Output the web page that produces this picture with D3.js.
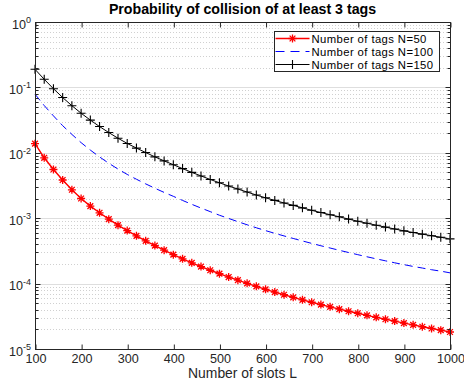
<!DOCTYPE html>
<html>
<head>
<meta charset="utf-8">
<script src="https://cdn.jsdelivr.net/npm/d3@7/dist/d3.min.js"></script>
<style>
  body { margin: 0; background: #fff; }
  svg { display: block; font-family: "Liberation Sans", Arial, Helvetica, sans-serif; }
</style>
</head>
<body>
<svg id="chart" width="464" height="386"></svg>
<script>
// number of slots L (x values, one marker each)
const slots = [100, 120, 140, 160, 180, 200, 220, 240, 260, 280, 300, 320, 340, 360, 380, 400,
  420, 440, 460, 480, 500, 520, 540, 560, 580, 600, 620, 640, 660, 680, 700, 720, 740, 760, 780,
  800, 820, 840, 860, 880, 900, 920, 940, 960, 980, 1000];

// probability
const pN50 = [1.38e-2, 8.39e-3, 5.55e-3, 3.84e-3, 2.72e-3, 2.00e-3, 1.53e-3, 1.21e-3, 9.66e-4,
  7.83e-4, 6.46e-4, 5.37e-4, 4.51e-4, 3.81e-4, 3.24e-4, 2.77e-4, 2.39e-4, 2.08e-4, 1.82e-4,
  1.60e-4, 1.42e-4, 1.26e-4, 1.13e-4, 1.01e-4, 9.08e-5, 8.18e-5, 7.41e-5, 6.75e-5, 6.17e-5,
  5.65e-5, 5.19e-5, 4.78e-5, 4.41e-5, 4.07e-5, 3.78e-5, 3.52e-5, 3.27e-5, 3.05e-5, 2.85e-5,
  2.67e-5, 2.49e-5, 2.34e-5, 2.19e-5, 2.06e-5, 1.94e-5, 1.82e-5];
const pN100 = [7.87e-2, 5.28e-2, 3.67e-2, 2.60e-2, 1.91e-2, 1.43e-2, 1.10e-2, 8.65e-3, 6.92e-3,
  5.64e-3, 4.67e-3, 3.94e-3, 3.35e-3, 2.87e-3, 2.48e-3, 2.16e-3, 1.87e-3, 1.63e-3, 1.43e-3,
  1.26e-3, 1.11e-3, 9.91e-4, 8.85e-4, 7.93e-4, 7.14e-4, 6.46e-4, 5.87e-4, 5.36e-4, 4.90e-4,
  4.49e-4, 4.12e-4, 3.79e-4, 3.50e-4, 3.23e-4, 2.99e-4, 2.77e-4, 2.57e-4, 2.39e-4, 2.23e-4,
  2.08e-4, 1.95e-4, 1.83e-4, 1.73e-4, 1.63e-4, 1.55e-4, 1.46e-4];
const pN150 = [1.89e-1, 1.33e-1, 9.55e-2, 7.00e-2, 5.25e-2, 4.03e-2, 3.16e-2, 2.52e-2, 2.04e-2,
  1.67e-2, 1.39e-2, 1.18e-2, 1.01e-2, 8.67e-3, 7.52e-3, 6.58e-3, 5.73e-3, 5.02e-3, 4.43e-3,
  3.91e-3, 3.48e-3, 3.10e-3, 2.79e-3, 2.51e-3, 2.26e-3, 2.05e-3, 1.87e-3, 1.71e-3, 1.57e-3,
  1.44e-3, 1.32e-3, 1.22e-3, 1.13e-3, 1.05e-3, 9.68e-4, 8.99e-4, 8.37e-4, 7.82e-4, 7.31e-4,
  6.84e-4, 6.41e-4, 6.04e-4, 5.70e-4, 5.40e-4, 5.11e-4, 4.83e-4];

const seriesNames = ['Number of tags N=50', 'Number of tags N=100', 'Number of tags N=150'];
const xTicks = [100, 200, 300, 400, 500, 600, 700, 800, 900, 1000];
const yDecades = [1e-5, 1e-4, 1e-3, 1e-2, 1e-1, 1e0];
const yExponents = ['-5', '-4', '-3', '-2', '-1', '0'];
const titleText = 'Probability of collision of at least 3 tags';
const xLabelText = 'Number of slots L';

const width = 464;
const height = 386;
const margin = { top: 22, right: 14, bottom: 37, left: 35 };
const textColor = '#262626';

const svg = d3.select('#chart');

const x = d3.scaleLinear().domain([100, 1000]).range([margin.left, width - margin.right]);
const y = d3.scaleLog().domain([1e-5, 1]).range([height - margin.bottom, margin.top]);

const x0 = x.range()[0], x1 = x.range()[1];
const yTop = y.range()[1], yBot = y.range()[0];

// all log ticks: 1..9 of each decade
const allYTicks = y.ticks();
const isMajor = v => Math.abs(Math.log10(v) - Math.round(Math.log10(v))) < 1e-9;
const minorYTicks = allYTicks.filter(v => !isMajor(v));

// grid (y only): minor dotted, major solid
svg.append('g')
  .selectAll('line')
  .data(minorYTicks)
  .join('line')
  .attr('x1', x0).attr('x2', x1)
  .attr('y1', d => Math.round(y(d)) + 0.5).attr('y2', d => Math.round(y(d)) + 0.5)
  .attr('stroke', '#c4c4c4')
  .attr('stroke-width', 0.8)
  .attr('stroke-dasharray', '1,2');

svg.append('g')
  .selectAll('line')
  .data(yDecades.slice(1, -1))
  .join('line')
  .attr('x1', x0).attr('x2', x1)
  .attr('y1', d => Math.round(y(d)) + 0.5).attr('y2', d => Math.round(y(d)) + 0.5)
  .attr('stroke', '#dedede')
  .attr('stroke-width', 1);

// series
const series = [
  { name: seriesNames[0], values: pN50, color: '#ff0000', width: 1.4, dash: null, marker: 'asterisk' },
  { name: seriesNames[1], values: pN100, color: '#0000ff', width: 1, dash: '8,5', marker: null },
  { name: seriesNames[2], values: pN150, color: '#000000', width: 1, dash: null, marker: 'plus' }
];

const line = d3.line()
  .x(d => x(d[0]))
  .y(d => y(d[1]));

function markerPath(type, r) {
  if (type === 'plus') {
    return `M${-r},0H${r}M0,${-r}V${r}`;
  }
  // asterisk: plus + times
  const k = r * 0.72;
  return `M${-r},0H${r}M0,${-r}V${r}M${-k},${-k}L${k},${k}M${-k},${k}L${k},${-k}`;
}

const plot = svg.append('g');
series.forEach(s => {
  const pts = slots.map((l, i) => [l, s.values[i]]);
  plot.append('path')
    .datum(pts)
    .attr('d', line)
    .attr('fill', 'none')
    .attr('stroke', s.color)
    .attr('stroke-width', s.width)
    .attr('stroke-dasharray', s.dash);

  if (s.marker) {
    plot.append('g')
      .selectAll('path')
      .data(pts)
      .join('path')
      .attr('transform', d => `translate(${x(d[0])},${y(d[1])})`)
      .attr('d', markerPath(s.marker, s.marker === 'plus' ? 4.5 : 4))
      .attr('fill', 'none')
      .attr('stroke', s.color)
      .attr('stroke-width', s.marker === 'plus' ? 1.1 : 1.3);
  }
});

// axes box
svg.append('rect')
  .attr('x', x0 + 0.5).attr('y', yTop + 0.5)
  .attr('width', x1 - x0).attr('height', yBot - yTop)
  .attr('fill', 'none')
  .attr('stroke', textColor)
  .attr('stroke-width', 1);

// x axis bottom with labels, ticks inward
const xAxis = svg.append('g')
  .attr('transform', `translate(0.5,${yBot + 0.5})`)
  .call(d3.axisBottom(x).tickValues(xTicks).tickSize(-5).tickPadding(4.5).tickFormat(d3.format('d')));
xAxis.select('.domain').remove();
xAxis.selectAll('line').attr('stroke', textColor);
xAxis.selectAll('text')
  .attr('fill', textColor)
  .attr('font-size', '12.6px')
  .attr('font-family', '"Liberation Sans", Arial, Helvetica, sans-serif');

// x axis top, ticks only
const xTop = svg.append('g')
  .attr('transform', `translate(0.5,${yTop + 0.5})`)
  .call(d3.axisTop(x).tickValues(xTicks).tickSize(-5).tickFormat(''));
xTop.select('.domain').remove();
xTop.selectAll('line').attr('stroke', textColor);

// y ticks, left and right, major and minor
[[x0, 1], [x1, -1]].forEach(([xs, dir]) => {
  svg.append('g')
    .selectAll('line')
    .data(allYTicks)
    .join('line')
    .attr('x1', xs + 0.5)
    .attr('x2', d => xs + 0.5 + dir * (isMajor(d) ? 5 : 3))
    .attr('y1', d => Math.round(y(d)) + 0.5)
    .attr('y2', d => Math.round(y(d)) + 0.5)
    .attr('stroke', textColor)
    .attr('stroke-width', 1);
});

// y tick labels as 10^n
const yLabels = svg.append('g')
  .attr('fill', textColor)
  .attr('text-anchor', 'end');
yDecades.forEach((v, i) => {
  const t = yLabels.append('text')
    .attr('x', x0 - 4)
    .attr('y', y(v) + 6.5)
    .attr('font-size', '12.6px');
  t.append('tspan').text('10');
  t.append('tspan')
    .attr('dy', -5.5)
    .attr('font-size', '9px')
    .text(yExponents[i]);
});

// title
svg.append('text')
  .attr('x', (x0 + x1) / 2)
  .attr('y', 14)
  .attr('text-anchor', 'middle')
  .attr('font-size', '14.2px')
  .attr('font-weight', 'bold')
  .attr('fill', '#000')
  .text(titleText);

// x label
svg.append('text')
  .attr('x', (x0 + x1) / 2)
  .attr('y', 377.5)
  .attr('text-anchor', 'middle')
  .attr('font-size', '13.9px')
  .attr('fill', textColor)
  .text(xLabelText);

// legend
const legend = svg.append('g').attr('transform', 'translate(274.5,31.5)');
legend.append('rect')
  .attr('width', 165).attr('height', 40)
  .attr('fill', '#fff')
  .attr('stroke', textColor)
  .attr('stroke-width', 1);

series.forEach((s, i) => {
  const row = legend.append('g').attr('transform', `translate(0,${7 + i * 13})`);
  row.append('line')
    .attr('x1', 1).attr('x2', 35)
    .attr('stroke', s.color)
    .attr('stroke-width', s.width)
    .attr('stroke-dasharray', s.dash ? '9,6' : null);
  if (s.marker) {
    row.append('path')
      .attr('transform', 'translate(18,0)')
      .attr('d', markerPath(s.marker, s.marker === 'plus' ? 4.5 : 4))
      .attr('fill', 'none')
      .attr('stroke', s.color)
      .attr('stroke-width', s.marker === 'plus' ? 1.1 : 1.3);
  }
  row.append('text')
    .attr('x', 37)
    .attr('y', 4)
    .attr('font-size', '11.3px')
    .attr('letter-spacing', '0.4px')
    .attr('fill', '#000')
    .text(s.name);
});
</script>
</body>
</html>
